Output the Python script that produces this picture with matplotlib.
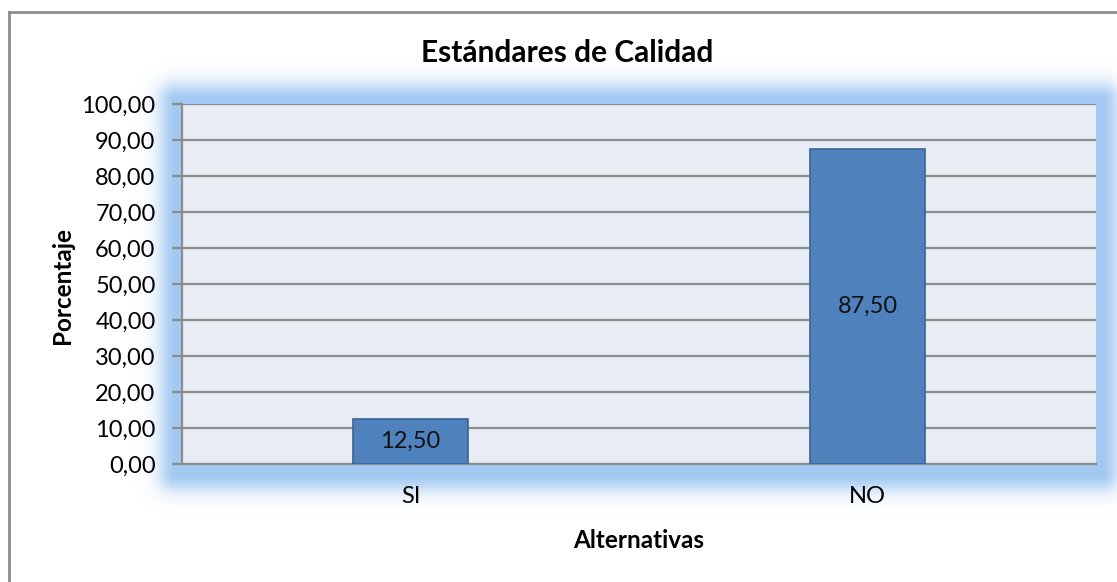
import numpy as np
import matplotlib
matplotlib.use("Agg")
import matplotlib.pyplot as plt
from matplotlib.ticker import FuncFormatter, MultipleLocator
from matplotlib.lines import Line2D

categories = ["SI", "NO"]
values = [12.50, 87.50]
title = "Estándares de Calidad"
xlabel = "Alternativas"
ylabel = "Porcentaje"

W, H = 1117, 582
DPI = 100
plt.rcParams['font.family'] = ['Lato', 'DejaVu Sans']

fig = plt.figure(figsize=(W / DPI, H / DPI), dpi=DPI)
fig.patch.set_facecolor("white")

# plot area in pixel coords (top-down)
px_l, px_r, px_t, px_b = 182, 1096, 104, 464

# glow background
bg = fig.add_axes([0, 0, 1, 1], zorder=0)
bg.set_xlim(0, W)
bg.set_ylim(H, 0)
bg.axis("off")
yy, xx = np.mgrid[0:H, 0:W] + 0.5
gl, gr, gt, gb = px_l - 6, px_r + 6, px_t - 4, px_b + 10
dx = np.maximum(np.maximum(gl - xx, xx - gr), 0)
dy = np.maximum(np.maximum(gt - yy, yy - gb), 0)
d = np.sqrt(dx ** 2 + dy ** 2)
alpha = np.exp(-(d / 18.0) ** 2)
img = np.zeros((H, W, 4))
img[..., 0] = 0.64
img[..., 1] = 0.79
img[..., 2] = 0.95
img[..., 3] = alpha
bg.imshow(img, extent=(0, W, H, 0), interpolation="bilinear", zorder=0)
# outer border (left and top)
bg.add_line(Line2D([9, 9], [12, H], color="#8c8c8c", lw=2))
bg.add_line(Line2D([9, W], [12, 12], color="#8c8c8c", lw=2))

ax = fig.add_axes([px_l / W, 1 - px_b / H, (px_r - px_l) / W, (px_b - px_t) / H], zorder=1)
ax.set_facecolor("#E8ECF4")
x = np.arange(len(categories))
bars = ax.bar(x, values, width=0.25, color="#4F81BD", edgecolor="#3A6395", linewidth=1.2, zorder=3)
ax.set_xlim(-0.5, len(categories) - 0.5)
ax.set_ylim(0, 100)
ax.yaxis.set_major_locator(MultipleLocator(10))
ax.yaxis.set_major_formatter(FuncFormatter(lambda v, p: f"{v:.2f}".replace(".", ",")))
ax.grid(axis="y", color="#8c8c8c", linewidth=1.6, zorder=1)
ax.set_axisbelow(True)
for s in ["top", "right"]:
    ax.spines[s].set_visible(False)
ax.spines["left"].set_color("#8c8c8c")
ax.spines["left"].set_linewidth(1.6)
ax.spines["bottom"].set_color("#8c8c8c")
ax.spines["bottom"].set_linewidth(1.6)
ax.set_xticks(x)
ax.set_xticklabels(categories)
ax.tick_params(axis="x", length=0, pad=16, labelsize=17)
ax.tick_params(axis="y", length=7, width=1.6, color="#8c8c8c", labelsize=17, pad=12)

for b, v in zip(bars, values):
    ax.text(b.get_x() + b.get_width() / 2, v / 2, f"{v:.2f}".replace(".", ","),
            ha="center", va="center", fontsize=17, color="#111111", zorder=4)

fig.text(567 / W, 1 - 53 / H, title, ha="center", va="center", fontsize=21.5, fontweight="bold")
fig.text(639 / W, 1 - 540 / H, xlabel, ha="center", va="center", fontsize=17.5, fontweight="bold")
fig.text(62 / W, 1 - 286 / H, ylabel, ha="center", va="center", fontsize=17.5, fontweight="bold", rotation=90)

fig.savefig("out.png", dpi=DPI)
